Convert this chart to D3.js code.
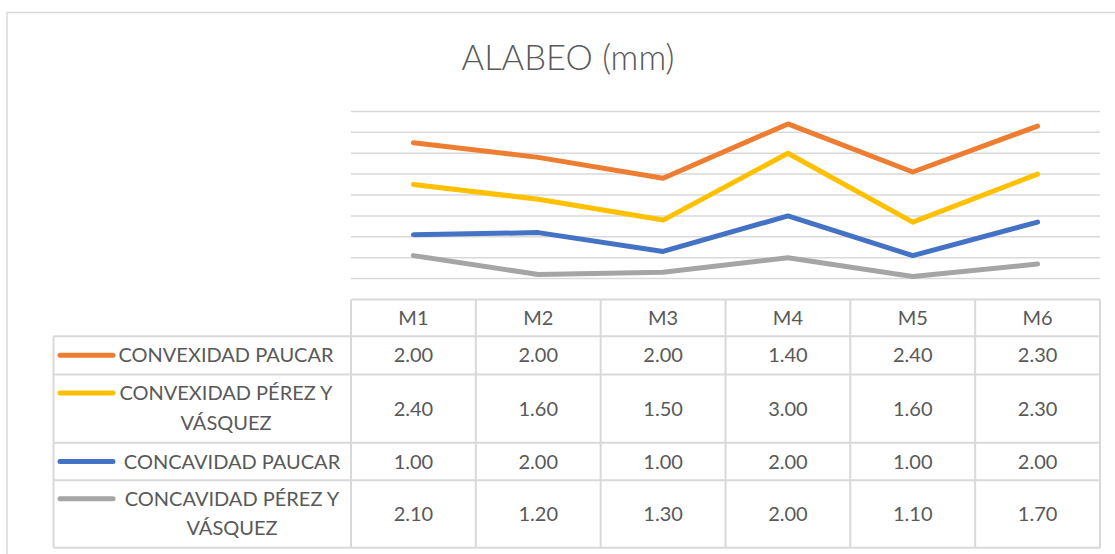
<!DOCTYPE html>
<html lang="es">
<head>
<meta charset="utf-8">
<title>ALABEO (mm)</title>
<style>
body { margin: 0; background: #fff; }
svg text { font-family: Lato, "Open Sans", sans-serif; fill: #595959; }
.grid line { stroke: #d9d9d9; stroke-width: 1.5; }
.tbl line { stroke: #d9d9d9; stroke-width: 2; }
</style>
</head>
<body>
<div id="chart"></div>
<script src="https://d3js.org/d3.v7.min.js"></script>
<script>
var muestras = ['M1', 'M2', 'M3', 'M4', 'M5', 'M6'];
var convexidadPaucar = [2.00, 2.00, 2.00, 1.40, 2.40, 2.30];
var convexidadPerez  = [2.40, 1.60, 1.50, 3.00, 1.60, 2.30];
var concavidadPaucar = [1.00, 2.00, 1.00, 2.00, 1.00, 2.00];
var concavidadPerez  = [2.10, 1.20, 1.30, 2.00, 1.10, 1.70];

// rows in table order, top to bottom
var series = [
  {name: ['CONVEXIDAD PAUCAR'], values: convexidadPaucar, color: '#ED7D31'},
  {name: ['CONVEXIDAD PÉREZ Y', 'VÁSQUEZ'], values: convexidadPerez, color: '#FFC000'},
  {name: ['CONCAVIDAD PAUCAR'], values: concavidadPaucar, color: '#4472C4'},
  {name: ['CONCAVIDAD PÉREZ Y', 'VÁSQUEZ'], values: concavidadPerez, color: '#A5A5A5'}
];

var W = 1115, H = 554;
var svg = d3.select('#chart').append('svg')
  .attr('width', W).attr('height', H);

// outer chart border (runs off the right/bottom of the picture)
svg.append('rect')
  .attr('x', 7).attr('y', 12.5).attr('width', W + 20).attr('height', H + 20)
  .attr('fill', 'none').attr('stroke', '#d9d9d9').attr('stroke-width', 1.5);

svg.append('text')
  .attr('x', 568).attr('y', 70)
  .attr('text-anchor', 'middle')
  .style('font-size', '34.5px')
  .style('font-weight', 300)
  .text('ALABEO (mm)');

var plotLeft = 351, plotRight = 1100, plotTop = 111.4, plotBottom = 299.5;
var x = d3.scaleBand().domain(muestras).range([plotLeft, plotRight]);
var y = d3.scaleLinear().domain([0, 9]).range([plotBottom, plotTop]);

svg.append('g').attr('class', 'grid')
  .selectAll('line')
  .data(y.ticks(9).filter(function(v) { return v > 0; }))
  .enter().append('line')
  .attr('x1', plotLeft).attr('x2', plotRight)
  .attr('y1', function(d) { return y(d); })
  .attr('y2', function(d) { return y(d); });

// stacked lines: bottom series is the last table row
var table = muestras.map(function(m, i) {
  var row = {m: m};
  series.forEach(function(s, k) { row[k] = s.values[i]; });
  return row;
});
var stack = d3.stack().keys([3, 2, 1, 0]);
var stacked = stack(table);

var line = d3.line()
  .x(function(d) { return x(d.data.m) + x.bandwidth() / 2; })
  .y(function(d) { return y(d[1]); });

svg.append('g').selectAll('path')
  .data(stacked)
  .enter().append('path')
  .attr('fill', 'none')
  .attr('stroke', function(d) { return series[d.key].color; })
  .attr('stroke-width', 5)
  .attr('stroke-linejoin', 'round')
  .attr('stroke-linecap', 'round')
  .attr('d', line);

// data table
var rowH = [36.7, 38.3, 68.3, 37.4, 67.6];
var rowY = [plotBottom];
rowH.forEach(function(h, i) { rowY.push(rowY[i] + h); });
var legLeft = 53.5;
var tbl = svg.append('g').attr('class', 'tbl');

// horizontal borders
rowY.forEach(function(yy, i) {
  tbl.append('line')
    .attr('x1', i === 0 ? plotLeft : legLeft).attr('x2', plotRight)
    .attr('y1', yy).attr('y2', yy);
});
// vertical borders
var colX = muestras.map(function(m) { return x(m); }).concat([plotRight]);
colX.forEach(function(xx) {
  tbl.append('line')
    .attr('x1', xx).attr('x2', xx)
    .attr('y1', rowY[0]).attr('y2', rowY[rowY.length - 1]);
});
tbl.append('line')
  .attr('x1', legLeft).attr('x2', legLeft)
  .attr('y1', rowY[1]).attr('y2', rowY[rowY.length - 1]);

var fs = 20;
// header
svg.append('g').selectAll('text')
  .data(muestras)
  .enter().append('text')
  .attr('x', function(d) { return x(d) + x.bandwidth() / 2; })
  .attr('y', (rowY[0] + rowY[1]) / 2)
  .attr('dy', '0.35em')
  .attr('text-anchor', 'middle')
  .style('font-size', fs + 'px')
  .text(function(d) { return d; });

series.forEach(function(s, k) {
  var top = rowY[k + 1], bot = rowY[k + 2], mid = (top + bot) / 2;
  var g = svg.append('g');
  g.selectAll('text.v')
    .data(s.values)
    .enter().append('text')
    .attr('class', 'v')
    .attr('x', function(d, i) { return x(muestras[i]) + x.bandwidth() / 2; })
    .attr('y', mid)
    .attr('dy', '0.35em')
    .attr('text-anchor', 'middle')
    .style('font-size', fs + 'px')
    .text(function(d) { return d.toFixed(2); });

  var firstY = s.name.length > 1 ? top + 18.5 : mid;
  g.append('line')
    .attr('x1', 60).attr('x2', 113)
    .attr('y1', firstY).attr('y2', firstY)
    .attr('stroke', s.color).attr('stroke-width', 5)
    .attr('stroke-linecap', 'round');
  g.selectAll('text.n')
    .data(s.name)
    .enter().append('text')
    .attr('class', 'n')
    .attr('x', k < 2 ? 226 : 232)
    .attr('y', function(d, i) { return firstY + i * 29.5; })
    .attr('dy', '0.35em')
    .attr('text-anchor', 'middle')
    .style('font-size', fs + 'px')
    .text(function(d) { return d; });
});
</script>
</body>
</html>
